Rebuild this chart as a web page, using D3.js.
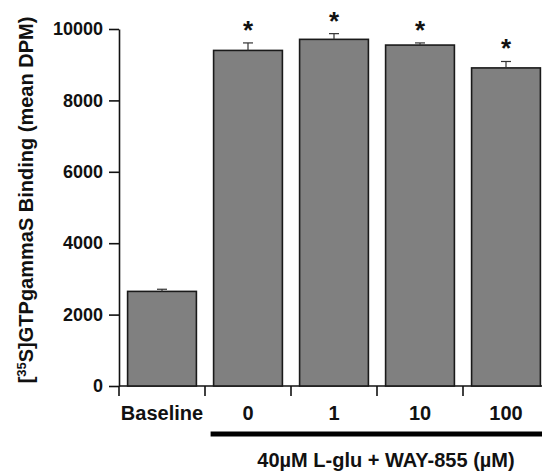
<html lang="en">
<head>
  <meta charset="UTF-8">
  <title>GTPgammaS Binding</title>
  <script src="https://d3js.org/d3.v7.min.js"></script>
</head>
<style>
  body { margin: 0; background: white; }
  text { font-family: "Liberation Sans", Arial, sans-serif; font-weight: bold; fill: #111; }
  .axis line, .axis path { stroke: #111; stroke-width: 1.6; }
</style>
<body>
  <svg class="graph" width="542" height="472"></svg>
  <script>
    // data
    const categories = ["Baseline", "0", "1", "10", "100"];
    const means = [2650, 9400, 9710, 9550, 8910];
    const errors = [60, 210, 160, 60, 180];
    const significant = [false, true, true, true, true];
    const yTicks = [0, 2000, 4000, 6000, 8000, 10000];

    const svg = d3.select('svg.graph');

    const y = d3.scaleLinear().domain([0, 10000]).range([386, 29]);
    const x = d3.scaleBand().domain(categories).range([119, 549])
      .paddingInner(0.2).paddingOuter(0.1);
    const step = x.step();

    // y axis
    const leftAxis = d3.axisLeft(y).tickValues(yTicks).tickFormat(d3.format('d'))
      .tickSize(10).tickSizeOuter(0).tickPadding(6);
    svg.append('g')
      .attr('class', 'y axis')
      .attr('transform', `translate(119,0)`)
      .call(leftAxis)
      .selectAll('text').style('font-size', '18px');

    // x axis baseline
    svg.append('line')
      .attr('x1', 119).attr('x2', 549)
      .attr('y1', y(0)).attr('y2', y(0))
      .attr('stroke', '#111').attr('stroke-width', 1.6);

    // category boundary ticks
    const bounds = categories.map(c => x(c) - step * 0.1);
    svg.selectAll('.btick').data(bounds).enter().append('line')
      .attr('class', 'btick')
      .attr('x1', d => d).attr('x2', d => d)
      .attr('y1', y(0)).attr('y2', y(0) + 10)
      .attr('stroke', '#111').attr('stroke-width', 1.6);

    // category labels
    svg.selectAll('.clabel').data(categories).enter().append('text')
      .attr('class', 'clabel')
      .attr('x', d => x(d) + x.bandwidth() / 2)
      .attr('y', 420)
      .attr('text-anchor', 'middle')
      .style('font-size', '20px')
      .text(d => d);

    // bars
    svg.selectAll('.bar').data(means).enter().append('rect')
      .attr('class', 'bar')
      .attr('x', (d, i) => x(categories[i]))
      .attr('width', x.bandwidth())
      .attr('y', d => y(d))
      .attr('height', d => y(0) - y(d))
      .attr('fill', '#808080')
      .attr('stroke', '#1a1a1a')
      .attr('stroke-width', 1.6);

    // error bars
    means.forEach((m, i) => {
      const cx = x(categories[i]) + x.bandwidth() / 2;
      svg.append('line')
        .attr('x1', cx).attr('x2', cx)
        .attr('y1', y(m)).attr('y2', y(m + errors[i]))
        .attr('stroke', '#333').attr('stroke-width', 1.2);
      svg.append('line')
        .attr('x1', cx - 5).attr('x2', cx + 5)
        .attr('y1', y(m + errors[i])).attr('y2', y(m + errors[i]))
        .attr('stroke', '#333').attr('stroke-width', 1.2);
      if (significant[i]) {
        svg.append('text')
          .attr('x', cx)
          .attr('y', y(m + errors[i]) - 4)
          .attr('text-anchor', 'middle')
          .style('font-size', '26px')
          .text('*');
      }
    });

    // treatment bar + label
    svg.append('line')
      .attr('x1', x("0") - 3).attr('x2', 549)
      .attr('y1', 434).attr('y2', 434)
      .attr('stroke', '#000').attr('stroke-width', 5);
    svg.append('text')
      .attr('x', 386).attr('y', 467)
      .attr('text-anchor', 'middle')
      .style('font-size', '20px')
      .text('40\u00B5M L-glu + WAY-855 (\u00B5M)');

    // y label
    const yl = svg.append('text')
      .attr('transform', 'translate(33,200) rotate(-90)')
      .attr('text-anchor', 'middle')
      .style('font-size', '20px');
    yl.append('tspan').text('[');
    yl.append('tspan').attr('dy', -7).style('font-size', '13px').text('35');
    yl.append('tspan').attr('dy', 7).text('S]GTPgammaS Binding (mean DPM)');
  </script>
</body>
</html>
